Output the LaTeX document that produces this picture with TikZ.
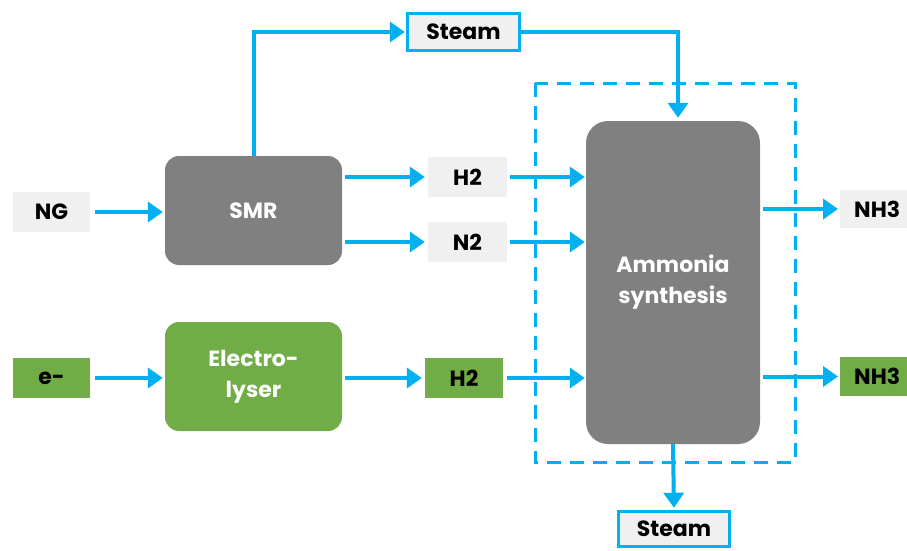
\documentclass[tikz,border=0pt]{standalone}
\usepackage{fontspec}
\setmainfont{Poppins}
\usetikzlibrary{arrows.meta,positioning}
\definecolor{cblue}{RGB}{0,176,240}
\definecolor{cgray}{RGB}{128,128,128}
\definecolor{clight}{RGB}{240,240,240}
\definecolor{cgreen}{RGB}{112,173,71}
\tikzset{
  txt/.style={font=\fontsize{22}{31}\selectfont\bfseries},
  lbl/.style={txt,fill=clight,text=black,inner sep=0pt},
  glbl/.style={txt,fill=cgreen,text=black,inner sep=0pt},
  proc/.style={txt,fill=cgray,text=white,rounded corners=14pt,inner sep=0pt,align=center},
  gproc/.style={txt,fill=cgreen,text=white,rounded corners=14pt,inner sep=0pt,align=center},
  steambox/.style={txt,fill=clight,text=black,draw=cblue,line width=3.5pt,inner sep=0pt},
  flow/.style={draw=cblue,line width=4pt,-{Triangle[length=15pt,width=20pt]}},
}
\begin{document}
\begin{tikzpicture}[x=1pt,y=-1pt]
\useasboundingbox (0,0) rectangle (907,551);
% dashed boundary
\draw[cblue,line width=3pt,dash pattern=on 14pt off 9pt] (535,83) rectangle (795,462);
% nodes
\node[lbl,minimum width=77pt,minimum height=40pt] (ng) at (51.5,212) {NG};
\node[glbl,minimum width=77pt,minimum height=40pt] (e) at (51.5,378) {e-};
\node[proc,minimum width=177pt,minimum height=109pt] (smr) at (253.5,210.5) {SMR};
\node[gproc,minimum width=177pt,minimum height=109pt] (ely) at (253.5,376.5) {Electro-\\lyser};
\node[lbl,minimum width=79pt,minimum height=40pt] (h2a) at (467.5,177) {H2};
\node[lbl,minimum width=79pt,minimum height=40pt] (n2) at (467.5,242) {N2};
\node[glbl,minimum width=78pt,minimum height=40pt] (h2b) at (464,378) {H2};
\node[proc,rounded corners=22pt,minimum width=174pt,minimum height=323pt] (amm) at (673,282.5) {Ammonia\\synthesis};
\node[steambox,minimum width=112pt,minimum height=37pt] (st1) at (463.5,32) {Steam};
\node[steambox,minimum width=111pt,minimum height=35pt] (st2) at (674,529) {Steam};
\node[lbl,minimum width=70pt,minimum height=38pt,anchor=west] (nh3a) at (840,209) {\hspace*{4pt}NH3};
\node[glbl,minimum width=70pt,minimum height=39pt,anchor=west] (nh3b) at (840,376.5) {\hspace*{4pt}NH3};
% coordinates
\coordinate (ammin1) at (amm.west |- h2a);
\coordinate (ammin2) at (amm.west |- n2);
\coordinate (ammin3) at (amm.west |- h2b);
\coordinate (ammtop) at ([xshift=5pt]amm.north);
% connectors
\draw[flow,shorten <=5pt,shorten >=2pt] (ng.east) -- (smr.west |- ng);
\draw[flow,shorten <=5pt,shorten >=2pt] (e.east) -- (ely.west |- e);
\draw[flow,shorten <=3pt,shorten >=3pt] (smr.east |- h2a) -- (h2a.west);
\draw[flow,shorten <=3pt,shorten >=3pt] (smr.east |- n2) -- (n2.west);
\draw[flow,shorten <=3pt,shorten >=3pt] (ely.east |- h2b) -- (h2b.west);
\draw[flow,shorten <=3pt,shorten >=1pt] (h2a.east) -- (ammin1);
\draw[flow,shorten <=3pt,shorten >=1pt] (n2.east) -- (ammin2);
\draw[flow,shorten <=4pt,shorten >=1pt] (h2b.east) -- (ammin3);
\draw[flow,shorten >=1pt] (smr.north) |- (st1.west);
\draw[flow,shorten >=3pt] (st1.east) -| (ammtop);
\draw[flow,shorten <=3pt,shorten >=2pt] (amm.east |- nh3a) -- (nh3a.west);
\draw[flow,shorten <=3pt,shorten >=2pt] (amm.east |- nh3b) -- (nh3b.west);
\draw[flow,shorten >=2pt] (amm.south) -- (st2.north);
\end{tikzpicture}
\end{document}
